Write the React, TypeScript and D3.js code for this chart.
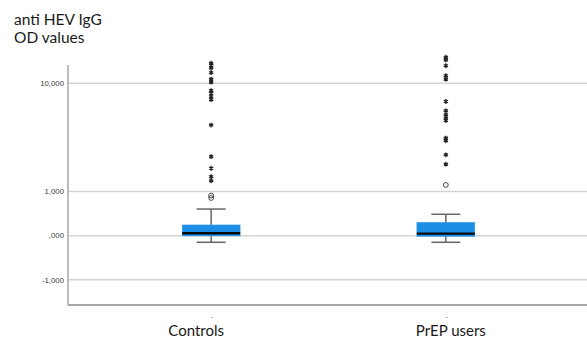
import React, { useEffect, useRef } from "react";
import * as d3 from "d3";

const categories = ["Controls", "PrEP users"];
const q1 = [-0.005, -0.016];
const median = [0.039, 0.032];
const q3 = [0.184, 0.235];
const whiskerLow = [-0.11, -0.11];
const whiskerHigh = [0.52, 0.4];
const outliers = [[0.81, 0.88], [1.22]];
const extremes = [
  [14.1, 13.6, 13.0, 12.0, 10.75, 10.2, 8.8, 8.4, 7.9, 7.5, 4.7, 2.47, 1.89, 1.53, 1.37],
  [15.6, 14.9, 13.5, 11.4, 10.75, 7.26, 6.13, 5.69, 5.35, 5.12, 3.64, 3.45, 2.57, 2.08],
];
const yTicks = [-1, 0, 1, 10];
const titleLines = ["anti HEV IgG", "OD values"];

const W = 587;
const H = 338;

export default function App() {
  const ref = useRef<SVGSVGElement>(null);

  useEffect(() => {
    const svg = d3.select(ref.current);
    svg.selectAll("*").remove();

    const left = 68;
    const right = 589;
    const top = 65;
    const bottom = 305;

    const x = d3.scalePoint<string>().domain(categories).range([left, right]).padding(0.61);
    // axis is symmetric-log like the SPSS output (linear near 0, log above 1)
    const y = d3.scaleSymlog().constant(1).domain([-1, 10]).range([279.7, 83.3]);

    const fmt = (v: number) => {
      const s = d3.format(",.3f")(v).replace(/\u2212/g, "-");
      // SPSS style: comma decimal, no leading zero
      const [int, dec] = s.split(".");
      const intPart = int.replace(/,/g, ".").replace(/^(-?)0$/, "$1");
      return (v === 0 ? "" : intPart) + "," + dec;
    };

    // title
    const title = svg.append("text")
      .attr("font-family", "Lato, 'Open Sans', sans-serif")
      .attr("font-size", 15.5)
      .attr("fill", "#1a1a1a");
    titleLines.forEach((t, i) => {
      title.append("tspan").attr("x", 14).attr("y", 25 + i * 17.5).text(t);
    });

    // gridlines
    svg.append("g")
      .selectAll("line")
      .data(yTicks)
      .enter()
      .append("line")
      .attr("x1", left)
      .attr("x2", W)
      .attr("y1", (d) => y(d))
      .attr("y2", (d) => y(d))
      .attr("stroke", "#d4d4d4")
      .attr("stroke-width", 1.5);

    // tick labels
    svg.append("g")
      .selectAll("text")
      .data(yTicks)
      .enter()
      .append("text")
      .attr("x", 64)
      .attr("y", (d) => y(d) + 2.8)
      .attr("text-anchor", "end")
      .attr("font-family", "'Liberation Sans', Arial, sans-serif")
      .attr("font-size", 7.8)
      .attr("fill", "#404040")
      .text((d) => (d === 10 ? "10,000" : fmt(d)));

    // axes lines
    svg.append("line")
      .attr("x1", left).attr("x2", left)
      .attr("y1", top).attr("y2", bottom)
      .attr("stroke", "#a8a8a8").attr("stroke-width", 1.5);
    svg.append("line")
      .attr("x1", left).attr("x2", W)
      .attr("y1", bottom).attr("y2", bottom)
      .attr("stroke", "#a8a8a8").attr("stroke-width", 2);

    const boxW = 58;
    const capW = 29;

    const g = svg.append("g")
      .selectAll("g")
      .data(categories)
      .enter()
      .append("g");

    // whiskers
    g.append("line")
      .attr("x1", (d) => x(d)!)
      .attr("x2", (d) => x(d)!)
      .attr("y1", (d, i) => y(whiskerLow[i]))
      .attr("y2", (d, i) => y(whiskerHigh[i]))
      .attr("stroke", "#666")
      .attr("stroke-width", 1.5);
    [whiskerLow, whiskerHigh].forEach((arr) => {
      g.append("line")
        .attr("x1", (d) => x(d)! - capW / 2)
        .attr("x2", (d) => x(d)! + capW / 2)
        .attr("y1", (d, i) => y(arr[i]))
        .attr("y2", (d, i) => y(arr[i]))
        .attr("stroke", "#666")
        .attr("stroke-width", 1.5);
    });

    // box
    g.append("rect")
      .attr("x", (d) => x(d)! - boxW / 2)
      .attr("width", boxW)
      .attr("y", (d, i) => y(q3[i]))
      .attr("height", (d, i) => y(q1[i]) - y(q3[i]))
      .attr("fill", "#1b8fe6")
      .attr("stroke", "#4aa6ec")
      .attr("stroke-width", 0.5);

    g.append("line")
      .attr("x1", (d) => x(d)! - boxW / 2)
      .attr("x2", (d) => x(d)! + boxW / 2)
      .attr("y1", (d, i) => y(median[i]))
      .attr("y2", (d, i) => y(median[i]))
      .attr("stroke", "#0a0a0a")
      .attr("stroke-width", 2.3);

    // outliers (circles) and extremes (asterisks)
    g.each(function (d, i) {
      const cx = x(d)!;
      d3.select(this)
        .selectAll("circle.out")
        .data(outliers[i])
        .enter()
        .append("circle")
        .attr("class", "out")
        .attr("cx", cx)
        .attr("cy", (v) => y(v))
        .attr("r", 2.4)
        .attr("fill", "none")
        .attr("stroke", "#444")
        .attr("stroke-width", 1);

      d3.select(this)
        .selectAll("path.ext")
        .data(extremes[i])
        .enter()
        .append("path")
        .attr("class", "ext")
        .attr("d", d3.symbol(d3.symbolAsterisk, 16)())
        .attr("transform", (v) => `translate(${cx},${y(v)})`)
        .attr("fill", "none")
        .attr("stroke", "#222")
        .attr("stroke-width", 1.3);
    });

    // small category tick marks
    g.append("line")
      .attr("x1", (d) => x(d)!)
      .attr("x2", (d) => x(d)! + 1.5)
      .attr("y1", 317.5)
      .attr("y2", 317.5)
      .attr("stroke", "#999")
      .attr("stroke-width", 1);

    // category labels
    g.append("text")
      .attr("x", (d, i) => x(d)! + (i === 0 ? -15 : 5))
      .attr("y", 336)
      .attr("text-anchor", "middle")
      .attr("font-family", "Lato, 'Open Sans', sans-serif")
      .attr("font-size", 15)
      .attr("fill", "#1a1a1a")
      .text((d) => d);
  }, []);

  return (
    <svg
      ref={ref}
      width={W}
      height={H}
      style={{ position: "absolute", left: 0, top: 0, background: "#fff" }}
    />
  );
}
